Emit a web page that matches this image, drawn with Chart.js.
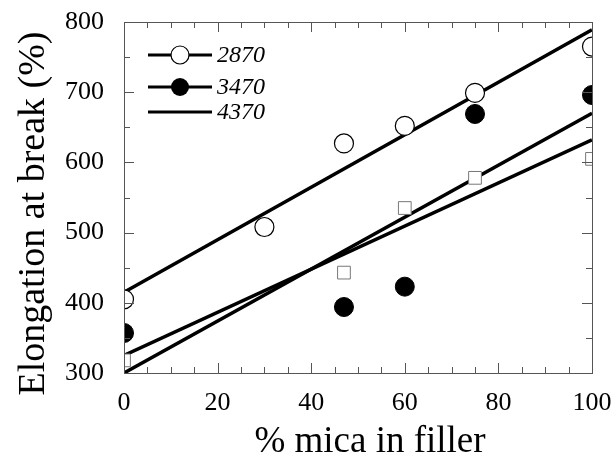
<!DOCTYPE html>
<html>
<head>
<meta charset="utf-8">
<script src="https://cdn.jsdelivr.net/npm/chart.js@4"></script>
<style>
  html, body { margin: 0; padding: 0; background: #fff; }
  #wrap { width: 615px; height: 457px; }
</style>
</head>
<body>
<div id="wrap"><canvas id="grafico"></canvas></div>
<script>
// valores
const series = ['2870', '3470', '4370'];
const mica2870 = [0, 30, 47, 60, 75, 100];
const elong2870 = [405, 508, 627, 652, 699, 765];
const mica3470 = [0, 47, 60, 75, 100];
const elong3470 = [357, 394, 423, 669, 696];
const mica4370 = [0, 47, 60, 75, 100];
const elong4370 = [318, 443, 535, 578, 605];
// retas de ajuste (extremos em x = 0 e x = 100)
const fitX = [0, 100];
const fit2870 = [415, 789];
const fit3470 = [300, 670];
const fit4370 = [325, 632];
const xTicks = [0, 20, 40, 60, 80, 100];
const yTicks = [300, 400, 500, 600, 700, 800];
const xTitle = '% mica in filler';
const yTitle = 'Elongation at break (%)';

const serif = "'Liberation Serif', 'DejaVu Serif', serif";

function pts(xs, ys) {
    return xs.map((x, i) => ({ x: x, y: ys[i] }));
}

// ticks para dentro nas quatro bordas + moldura
const frame = {
    id: 'frame',
    afterDraw(chart) {
        const { ctx, chartArea: a, scales } = chart;
        ctx.save();
        ctx.strokeStyle = '#555';
        ctx.lineWidth = 1;
        ctx.strokeRect(a.left + 0.5, a.top + 0.5, a.right - a.left, a.bottom - a.top);
        ctx.beginPath();
        for (let v = 0; v <= 100; v += 5) {
            const px = Math.round(scales.x.getPixelForValue(v)) + 0.5;
            const len = v % 20 === 0 ? 10 : 6;
            ctx.moveTo(px, a.bottom); ctx.lineTo(px, a.bottom - len);
            ctx.moveTo(px, a.top); ctx.lineTo(px, a.top + len);
        }
        for (let v = 300; v <= 800; v += 50) {
            const py = Math.round(scales.y.getPixelForValue(v)) + 0.5;
            const len = v % 100 === 0 ? 10 : 6;
            ctx.moveTo(a.left, py); ctx.lineTo(a.left + len, py);
            ctx.moveTo(a.right, py); ctx.lineTo(a.right - len, py);
        }
        ctx.stroke();
        ctx.restore();
    }
};

// títulos dos eixos
const titulos = {
    id: 'titulos',
    afterDraw(chart) {
        const { ctx, chartArea: a } = chart;
        ctx.save();
        ctx.fillStyle = '#000';
        ctx.textAlign = 'center';
        ctx.textBaseline = 'alphabetic';
        ctx.font = "37px " + serif;
        ctx.fillText(xTitle, (a.left + a.right) / 2 + 12, 452);
        ctx.translate(44, (a.top + a.bottom) / 2 + 16);
        ctx.rotate(-Math.PI / 2);
        ctx.font = "38px " + serif;
        ctx.fillText(yTitle, 0, 0);
        ctx.restore();
    }
};

// legenda desenhada dentro da área do gráfico
const legendaInterna = {
    id: 'legendaInterna',
    afterDraw(chart) {
        const { ctx, chartArea: a } = chart;
        const x0 = a.left + 24, x1 = a.left + 88;
        const rows = [a.top + 33, a.top + 65, a.top + 90];
        ctx.save();
        series.forEach((name, i) => {
            const y = rows[i];
            ctx.strokeStyle = '#000';
            ctx.lineWidth = 3;
            ctx.beginPath(); ctx.moveTo(x0, y); ctx.lineTo(x1, y); ctx.stroke();
            const cx = (x0 + x1) / 2;
            if (i === 0) {
                ctx.beginPath(); ctx.arc(cx, y, 9, 0, Math.PI * 2);
                ctx.fillStyle = '#fff'; ctx.fill();
                ctx.lineWidth = 1.2; ctx.stroke();
            } else if (i === 1) {
                ctx.beginPath(); ctx.arc(cx, y, 9, 0, Math.PI * 2);
                ctx.fillStyle = '#000'; ctx.fill();
            }
            ctx.fillStyle = '#000';
            ctx.font = "italic 24px " + serif;
            ctx.textBaseline = 'middle';
            ctx.fillText(name, x1 + 5, y + 1);
        });
        ctx.restore();
    }
};

const ctx = document.getElementById('grafico').getContext('2d');

const myChart = new Chart(ctx, {
    type: 'scatter',
    data: {
        datasets: [
            {
                label: series[0] + ' ajuste', data: pts(fitX, fit2870), showLine: true,
                borderColor: '#000', borderWidth: 3.5, pointRadius: 0, order: 3
            },
            {
                label: series[1] + ' ajuste', data: pts(fitX, fit3470), showLine: true,
                borderColor: '#000', borderWidth: 3.5, pointRadius: 0, order: 3
            },
            {
                label: series[2] + ' ajuste', data: pts(fitX, fit4370), showLine: true,
                borderColor: '#000', borderWidth: 3.5, pointRadius: 0, order: 3
            },
            {
                label: series[2], data: pts(mica4370, elong4370),
                pointStyle: 'rect', pointRadius: 9, borderColor: '#777', borderWidth: 1,
                backgroundColor: '#fff', order: 2
            },
            {
                label: series[0], data: pts(mica2870, elong2870),
                pointStyle: 'circle', pointRadius: 9.5, borderColor: '#000', borderWidth: 1.2,
                backgroundColor: '#fff', order: 1
            },
            {
                label: series[1], data: pts(mica3470, elong3470),
                pointStyle: 'circle', pointRadius: 9.5, borderColor: '#000', borderWidth: 1,
                backgroundColor: '#000', order: 0
            }
        ]
    },
    options: {
        responsive: true,
        maintainAspectRatio: false,
        animation: false,
        layout: { padding: { top: 22, right: 23, left: 0, bottom: 0 } },
        plugins: { legend: { display: false }, tooltip: { enabled: false } },
        scales: {
            x: {
                type: 'linear', min: 0, max: 100,
                afterBuildTicks: s => { s.ticks = xTicks.map(v => ({ value: v })); },
                afterFit: s => { s.height = 84; s.paddingLeft = 0; s.paddingRight = 0; },
                grid: { display: false },
                border: { display: false },
                ticks: { color: '#000', padding: 7, font: { family: serif, size: 26 } }
            },
            y: {
                type: 'linear', min: 300, max: 800,
                afterBuildTicks: s => { s.ticks = yTicks.map(v => ({ value: v })); },
                afterFit: s => { s.width = 124; s.paddingTop = 0; s.paddingBottom = 0; },
                grid: { display: false },
                border: { display: false },
                ticks: { color: '#000', padding: 12, font: { family: serif, size: 26 } }
            }
        }
    },
    plugins: [frame, titulos, legendaInterna]
});
</script>
</body>
</html>
